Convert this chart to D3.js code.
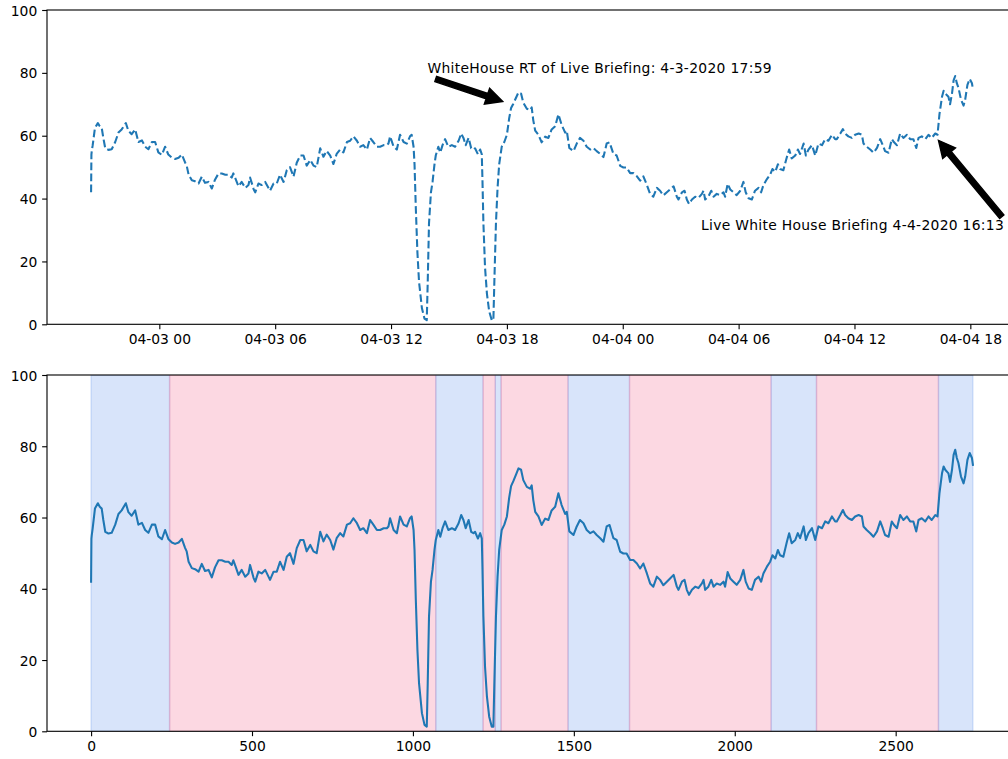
<!DOCTYPE html>
<html><head><meta charset="utf-8">
<script src="https://cdn.jsdelivr.net/npm/d3@7"></script>
<style>body{margin:0;background:#fff}svg{display:block}text{font-family:"DejaVu Sans",sans-serif}</style>
</head><body><svg id="c" width="1008" height="759"></svg>
<script>
// ---- data ----
const startTime = "2020-04-02T20:28:00Z";   // minute index 0
const minuteIndex = [0,1,2,5,12,21,27,33,38,44,54,64,75,85,95,108,116,126,137,147,158,168,178,189,199,209,220,230,240,251,261,272,282,292,297,303,313,323,334,344,354,365,375,385,396,406,417,427,437,442,448,458,468,479,489,494,505,510,520,530,541,556,567,577,587,598,608,618,629,639,650,660,670,681,691,701,712,722,732,743,753,763,774,784,795,805,815,826,836,846,857,867,877,888,898,909,919,924,929,940,950,960,971,981,991,996,1002,1005,1009,1014,1019,1028,1036,1043,1046,1050,1056,1061,1067,1071,1079,1085,1092,1100,1110,1121,1131,1142,1150,1157,1164,1173,1181,1188,1193,1202,1209,1214,1216,1219,1224,1230,1237,1245,1250,1253,1258,1263,1268,1276,1284,1292,1299,1305,1312,1320,1328,1336,1343,1354,1364,1369,1374,1380,1390,1400,1411,1421,1431,1442,1452,1462,1473,1478,1486,1499,1509,1519,1530,1540,1551,1561,1571,1582,1592,1602,1611,1623,1633,1644,1654,1664,1675,1685,1696,1706,1716,1727,1737,1747,1758,1768,1778,1789,1799,1810,1820,1825,1836,1844,1851,1858,1867,1877,1887,1898,1903,1908,1918,1927,1934,1944,1955,1965,1970,1978,1986,1996,2006,2017,2027,2034,2043,2053,2063,2074,2082,2089,2100,2110,2117,2126,2134,2141,2151,2162,2169,2177,2188,2196,2203,2214,2221,2229,2240,2250,2260,2271,2281,2291,2302,2312,2317,2328,2336,2343,2353,2364,2374,2385,2395,2400,2410,2421,2431,2442,2452,2460,2467,2478,2488,2495,2504,2514,2524,2535,2545,2555,2564,2571,2581,2592,2602,2612,2623,2630,2636,2644,2649,2654,2664,2669,2675,2680,2685,2690,2695,2703,2711,2716,2723,2730,2737,2740];
const sentiment = [42,54,55,57,62.5,64,63,62.5,59.3,56,55.5,55.7,58,61,62,64,61.5,60.5,62,58,58.5,56.5,55.7,58,58,54.7,53.9,56.5,54,53,52.6,53,54,51.5,50.5,47.6,45.8,45.5,44.8,47,45,45.3,43.2,46,48,48,47.6,47.6,46.7,48,46.5,43.9,45.3,43.4,44.3,46.7,43,42,44.8,44.3,45.3,42.5,44.8,44.8,47.6,45.3,49,50,47,51.4,53.7,53.7,50.5,52.3,50.5,50,56,53.3,55.2,53.7,51,54.2,55.6,54.7,58,58.4,59.8,58.4,56.5,57,55.6,59.3,58,56.5,56.5,57,57,57.5,59.8,56.5,55.6,60.3,58,57.5,59.8,60.3,56.5,50.9,36.9,22.8,13.5,5.1,1.8,1.3,13.5,32.2,42,45.3,50.9,53.7,56.5,54.6,57,58.9,56.5,57,56.5,58.4,60.7,59.3,57,59.3,56,55.6,56,54.1,55.6,54.1,46.2,32.2,18.2,9.7,4.1,1.3,1.3,13.5,32.2,43.4,50.9,56.5,58,60.3,65.5,68.8,70.2,72,73.8,73.4,70.5,68.6,68.1,69,64.9,61.6,60.3,57.9,59.7,59.3,62,63,66.8,63.5,61,61.6,56.1,55.1,57.5,59.3,58.4,56.5,55.6,56.1,55.1,54.2,53.2,57.5,57.9,54.2,53.7,50.4,49.9,49.9,48.1,48.1,47.1,45.7,47.1,44.3,41.5,40.6,43.4,42.5,41,42,42.9,43.9,40.6,39.7,42,42.5,39.7,38.3,39.7,40.6,40.2,41.5,42.5,39.7,40.6,42.5,40.6,41.5,41.1,42,40.6,44.7,42.9,42,41.1,42.5,45.3,42,40.1,39.7,42.5,43.4,42,44.3,46.2,47.6,49.4,48.5,50.9,49.4,49,53.2,55.6,52.8,53.7,55.6,54.2,57.5,53.7,55.6,57,53.7,57.5,57,58.9,58.4,60.3,58.9,58.9,60.7,62.1,60.7,59.8,59.3,60.3,60.7,60.3,57.5,56.5,55.6,54.6,56.1,58.9,57,55.1,54.6,58.9,57.9,57,60.7,59.3,60.3,58.9,58.9,56.1,59.3,59.8,58.9,60.3,59.3,60.7,60.3,66.8,72.4,74.3,73.4,72.4,70,73.4,77.6,79,76.7,75.3,71.5,69.6,71.5,76.2,78.1,76.7,74.8];

const spanStart = [0,244,1071,1218,1256,1274,1482,1673,2113,2254,2633];
const spanEnd   = [244,1071,1218,1256,1274,1482,1673,2113,2254,2633,2740];
const spanGroup = ["blue","pink","blue","pink","blue","pink","blue","pink","blue","pink","blue"];

const yTicks = [0,20,40,60,80,100];
const indexTicks = [0,500,1000,1500,2000,2500];

const annotationText = ["WhiteHouse RT of Live Briefing: 4-3-2020 17:59","Live White House Briefing 4-4-2020 16:13"];
const annotationTime = ["2020-04-03T17:59:00Z","2020-04-04T16:13:00Z"];
const annotationValue = [70.5, 59.5];
const annotationTextTime = ["2020-04-03T13:53:00Z","2020-04-04T04:03:00Z"];
const annotationTextValue = [80, 30];

// ---- style ----
const PT = 100/72;
const FS = 10*PT;
const lineColor = "#1f77b4";
const spanBase = {blue:"#6495ed", pink:"#f3638b"};

const svg = d3.select("#c");
const L = 47, R = 1017;
const top1 = 10, bot1 = 324.3, top2 = 375, bot2 = 731.3;

const iMin = d3.min(minuteIndex), iMax = d3.max(minuteIndex);
const pad = 0.05*(iMax - iMin);
const xIdx = d3.scaleLinear().domain([iMin - pad, iMax + pad]).range([L, R]);
const t0 = new Date(startTime).getTime();
const toTime = m => new Date(t0 + m*60000);
const xTime = d3.scaleUtc().domain([toTime(iMin - pad), toTime(iMax + pad)]).range([L, R]);
const yTop = d3.scaleLinear().domain([0,100]).range([bot1, top1]);
const yBot = d3.scaleLinear().domain([0,100]).range([bot2, top2]);

const data = minuteIndex.map((m,i)=>({m, v:sentiment[i]}));

const defs = svg.append("defs");
defs.append("clipPath").attr("id","cp1").append("rect").attr("x",L).attr("y",top1).attr("width",R-L).attr("height",bot1-top1);
defs.append("clipPath").attr("id","cp2").append("rect").attr("x",L).attr("y",top2).attr("width",R-L).attr("height",bot2-top2);

// ---- bottom spans ----
const spans = spanStart.map((s,i)=>({s, e:spanEnd[i], g:spanGroup[i]}));
svg.append("g").attr("clip-path","url(#cp2)").selectAll("rect").data(spans).join("rect")
  .attr("x", d=>xIdx(d.s)).attr("width", d=>xIdx(d.e)-xIdx(d.s))
  .attr("y", top2).attr("height", bot2-top2)
  .attr("fill", d=>spanBase[d.g]).attr("fill-opacity",0.25)
  .attr("stroke", d=>spanBase[d.g]).attr("stroke-opacity",0.25).attr("stroke-width",1.0*PT);

// ---- lines ----
const lineTop = d3.line().x(d=>xTime(toTime(d.m))).y(d=>yTop(d.v));
const lineBot = d3.line().x(d=>xIdx(d.m)).y(d=>yBot(d.v));
svg.append("path").attr("clip-path","url(#cp1)").attr("d", lineTop(data))
  .attr("fill","none").attr("stroke",lineColor).attr("stroke-width",1.5*PT)
  .attr("stroke-dasharray", `${5.55*PT},${2.4*PT}`).attr("stroke-linejoin","round");
svg.append("path").attr("clip-path","url(#cp2)").attr("d", lineBot(data))
  .attr("fill","none").attr("stroke",lineColor).attr("stroke-width",1.5*PT)
  .attr("stroke-linejoin","round").attr("stroke-linecap","square");

// ---- axes ----
function styleAxis(g){
  g.select(".domain").remove();
  g.selectAll(".tick line").attr("stroke","#000").attr("stroke-width",0.8*PT);
  g.selectAll(".tick text").attr("fill","#000").attr("font-size",FS).attr("font-family","DejaVu Sans");
}
const tk = 3.5*PT, tp = 3.5*PT;
svg.append("g").attr("transform",`translate(0,${bot1})`)
  .call(d3.axisBottom(xTime).ticks(d3.utcHour.every(6)).tickFormat(d3.utcFormat("%m-%d %H")).tickSize(tk).tickPadding(tp))
  .call(styleAxis);
svg.append("g").attr("transform",`translate(${L},0)`)
  .call(d3.axisLeft(yTop).tickValues(yTicks).tickFormat(d3.format("d")).tickSize(tk).tickPadding(tp))
  .call(styleAxis).call(g=>g.selectAll(".tick text").attr("dy","0.36em"));
svg.append("g").attr("transform",`translate(0,${bot2})`)
  .call(d3.axisBottom(xIdx).tickValues(indexTicks).tickFormat(d3.format("d")).tickSize(tk).tickPadding(tp))
  .call(styleAxis);
svg.append("g").attr("transform",`translate(${L},0)`)
  .call(d3.axisLeft(yBot).tickValues(yTicks).tickFormat(d3.format("d")).tickSize(tk).tickPadding(tp))
  .call(styleAxis).call(g=>g.selectAll(".tick text").attr("dy","0.36em"));

// spines
[[top1,bot1],[top2,bot2]].forEach(([a,b])=>{
  svg.append("rect").attr("x",L).attr("y",a).attr("width",R-L).attr("height",b-a)
    .attr("fill","none").attr("stroke","#000").attr("stroke-width",0.8*PT);
});

// ---- annotations ----
function drawArrow(sx, sy, ex, ey){
  const dx=ex-sx, dy=ey-sy, len=Math.hypot(dx,dy);
  const ux=dx/len, uy=dy/len, nx=-uy, ny=ux;
  const hl=12*PT, hw=12*PT, tw=4*PT;
  const bx=ex-ux*hl, by=ey-uy*hl;
  const pts=[[sx+nx*tw/2,sy+ny*tw/2],[bx+nx*tw/2,by+ny*tw/2],[bx+nx*hw/2,by+ny*hw/2],[ex,ey],
             [bx-nx*hw/2,by-ny*hw/2],[bx-nx*tw/2,by-ny*tw/2],[sx-nx*tw/2,sy-ny*tw/2]];
  svg.append("path").attr("d","M"+pts.map(p=>p.join(",")).join("L")+"Z")
    .attr("fill","#000").attr("stroke","#000").attr("stroke-width",1*PT).attr("stroke-linejoin","miter");
}
annotationText.forEach((txt,i)=>{
  const tx = xTime(new Date(annotationTextTime[i])), ty = yTop(annotationTextValue[i]);
  const t = svg.append("text").attr("x",tx).attr("y",ty).attr("font-size",FS)
    .attr("letter-spacing","0.3px").attr("fill","#000").text(txt);
  const w = t.node().getComputedTextLength();
  const bx0=tx, bx1=tx+w, by0=ty-0.76*FS, by1=ty+0.24*FS;
  const ax = xTime(new Date(annotationTime[i])), ay = yTop(annotationValue[i]);
  const cx = [bx0,(bx0+bx1)/2,bx1].reduce((a,b)=>Math.abs(b-ax)<Math.abs(a-ax)?b:a);
  const cy = [by0,(by0+by1)/2,by1].reduce((a,b)=>Math.abs(b-ay)<Math.abs(a-ay)?b:a);
  const p = 2*PT;
  const X0=bx0-p, X1=bx1+p, Y0=by0-p, Y1=by1+p;
  const dx=ax-cx, dy=ay-cy;
  let tExit = 1;
  [[X0,dx,cx],[X1,dx,cx]].forEach(([edge,d,c])=>{ if(d!==0){const tt=(edge-c)/d; if(tt>0) tExit=Math.min(tExit,tt);} });
  [[Y0,dy,cy],[Y1,dy,cy]].forEach(([edge,d,c])=>{ if(d!==0){const tt=(edge-c)/d; if(tt>0) tExit=Math.min(tExit,tt);} });
  const sx=cx+dx*tExit, sy=cy+dy*tExit;
  const len=Math.hypot(ax-sx, ay-sy);
  const shrink=4;
  const ex=ax-(ax-sx)/len*shrink, ey=ay-(ay-sy)/len*shrink;
  drawArrow(sx,sy,ex,ey);
});
</script></body></html>
